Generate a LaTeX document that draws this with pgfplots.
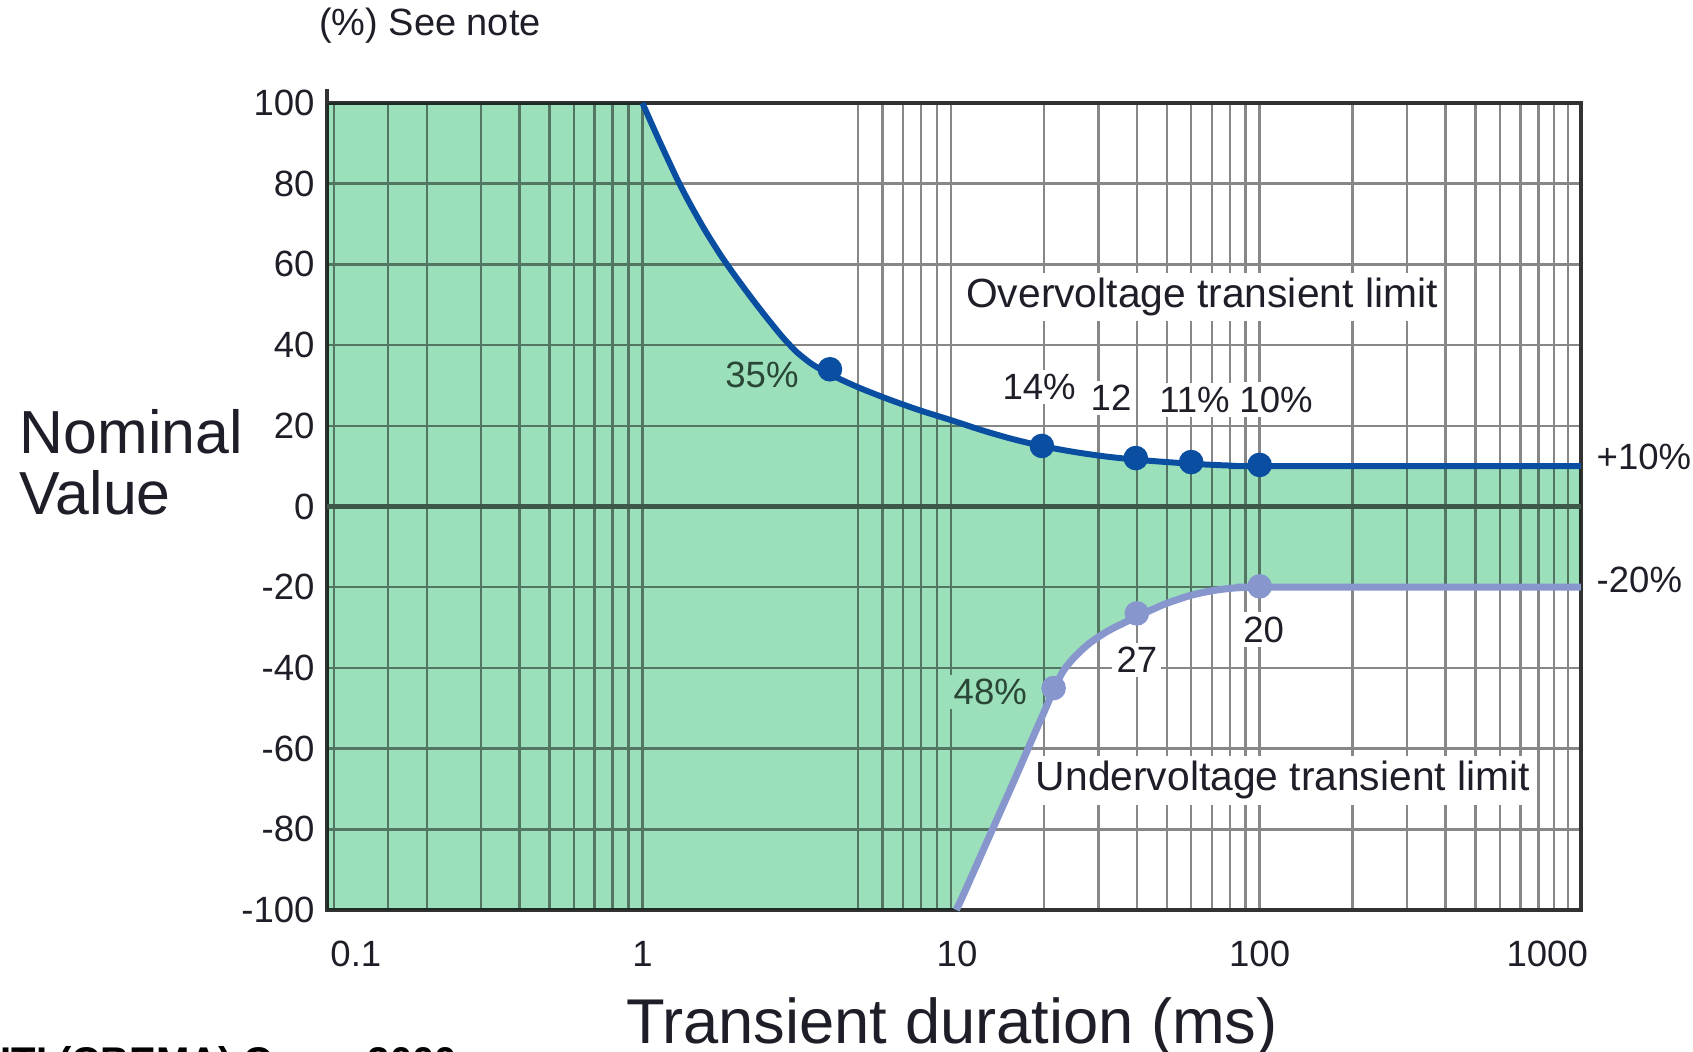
\documentclass[border=0pt]{standalone}
\usepackage{fontspec}
\setmainfont{Liberation Sans}
\usepackage{pgfplots}
\usepackage{pgfplotstable}
\pgfplotsset{compat=1.18}
\definecolor{fillgreen}{RGB}{155,224,186}
\definecolor{overblue}{RGB}{10,78,162}
\definecolor{underblue}{RGB}{136,150,206}
\definecolor{txt}{RGB}{30,30,40}
\definecolor{gridgray}{RGB}{135,135,135}
\definecolor{labgray}{RGB}{70,80,75}
\definecolor{axiscol}{RGB}{50,50,50}
\pgfplotstableread{
x y
1 100
1.122 91.4
1.259 83.15
1.318 80.0
1.413 75.56
1.585 68.8
1.778 62.7
1.905 59.35
1.995 57.2
2.239 52.0
2.512 47.05
2.818 42.35
3.055 39.4
3.162 38.25
3.548 35.25
4.093 32.6
5.012 29.5
6.31 26.5
7.943 23.8
10 21.4
12.59 18.9
15.85 16.7
19.95 14.9
25.12 13.5
31.62 12.4
39.81 11.6
50.12 11.0
63.1 10.5
79.43 10.15
100 10.0
1100 10.0
}\overtable
\pgfplotstableread{
x y
10.4 -100
11 -96
12 -89.5
13 -83.5
14 -78
16 -68
18 -59
20 -51
21.5 -45.5
23 -41
25 -37.5
28 -34
32 -31
36 -29
40 -27.3
45 -25.5
50 -24
60 -22
70 -20.9
80 -20.3
90 -20.05
100 -20
1100 -20
}\undertable
\begin{document}
\begin{tikzpicture}[x=1cm,y=1cm]
\begin{axis}[
  at={(3.27cm,1.42cm)}, anchor=south west,
  scale only axis, width=12.54cm, height=8.07cm,
  xmode=log, log basis x=10,
  xmin=0.095, xmax=1100, ymin=-100, ymax=100,
  xtick={0.1,1,10,100,1000},
  xticklabels={{\hspace*{4.4mm}0.1},1,{\hspace*{1.2mm}10},100,{1000\hspace*{4.2mm}}},
  minor xtick={0.15,0.2,0.3,0.4,0.5,0.6,0.7,0.8,0.9,5,6,7,8,9,20,30,40,50,60,70,80,90,200,300,400,500,600,700,800,900},
  ytick={-100,-80,-60,-40,-20,0,20,40,60,80,100},
  yticklabels={-100,-80,-60,-40,-20,0,20,40,60,80,100},
  xmajorgrids, xminorgrids, ymajorgrids,
  grid style={gridgray, line width=0.7pt},
  minor grid style={gridgray, line width=0.7pt},
  major tick length=0pt, minor tick length=0pt,
  axis line style={line width=1.2pt, draw=axiscol},
  tick label style={font=\fontsize{10.4}{12}\selectfont, text=txt},
  xticklabel style={yshift=-5.4pt},
  clip=false,
]
% zero line
\draw[gridgray!75!black, line width=1.5pt] (axis cs:0.095,0) -- (axis cs:1100,0);
% labels (drawn before the fill so the green multiplies over them)
\node[fill=white, inner sep=1.5pt, text=txt, font=\fontsize{11.6}{13}\selectfont] at (axis cs:65,51.9) {Overvoltage transient limit};
\node[fill=white, inner sep=1.5pt, text=txt, font=\fontsize{11.6}{13}\selectfont] at (axis cs:119,-67.9) {Undervoltage transient limit};
\node[fill=white, inner sep=1.2pt, text=labgray, font=\fontsize{10.4}{12}\selectfont] at (axis cs:2.44,32.6) {35\%};
\node[fill=white, inner sep=1.2pt, text=txt, font=\fontsize{10.4}{12}\selectfont] at (axis cs:19.3,29.7) {14\%};
\node[fill=white, inner sep=1.2pt, text=txt, font=\fontsize{10.4}{12}\selectfont] at (axis cs:33,27) {12};
\node[fill=white, inner sep=1.2pt, text=txt, font=\fontsize{10.4}{12}\selectfont] at (axis cs:61.5,26.5) {11\%};
\node[fill=white, inner sep=1.2pt, text=txt, font=\fontsize{10.4}{12}\selectfont] at (axis cs:113,26.5) {10\%};
\node[fill=white, inner sep=1.2pt, text=txt, font=\fontsize{10.4}{12}\selectfont] at (axis cs:103,-30.5) {20};
\node[fill=white, inner sep=1.2pt, text=txt, font=\fontsize{10.4}{12}\selectfont] at (axis cs:40,-38) {27};
\node[fill=white, inner sep=1.2pt, text=labgray, font=\fontsize{10.4}{12}\selectfont] at (axis cs:13.4,-46) {48\%};
% dots
\addplot[only marks, mark=*, mark size=3.3pt, color=overblue] coordinates {(4.05,34)(19.7,15)(39.7,12)(60,11)(100,10.3)};
\addplot[only marks, mark=*, mark size=3.3pt, color=underblue] coordinates {(21.5,-45)(40,-26.5)(100,-19.8)};
% green acceptable region
\addplot[fill=fillgreen, draw=none, blend mode=multiply] coordinates {
(0.095,100)(1,100)(1.122,91.4)(1.259,83.15)(1.318,80.0)(1.413,75.56)(1.585,68.8)(1.778,62.7)(1.905,59.35)(1.995,57.2)(2.239,52.0)(2.512,47.05)(2.818,42.35)(3.055,39.4)(3.162,38.25)(3.548,35.25)(4.093,32.6)(5.012,29.5)(6.31,26.5)(7.943,23.8)(10,21.4)(12.59,18.9)(15.85,16.7)(19.95,14.9)(25.12,13.5)(31.62,12.4)(39.81,11.6)(50.12,11.0)(63.1,10.5)(79.43,10.15)(100,10.0)(1100,10)
(1100,-20)(100,-20)(90,-20.05)(80,-20.3)(70,-20.9)(60,-22)(50,-24)(45,-25.5)(40,-27.3)(36,-29)(32,-31)(28,-34)(25,-37.5)(23,-41)(21.5,-45.5)(20,-51)(18,-59)(16,-68)(14,-78)(13,-83.5)(12,-89.5)(11,-96)(10.4,-100)(0.095,-100)};
% limit curves
\addplot[overblue, line width=1.7pt, smooth] table[x=x, y=y] {\overtable};
\addplot[underblue, line width=2pt, smooth] table[x=x, y=y] {\undertable};
\draw[line width=1.2pt, draw=axiscol] (axis cs:0.095,100) -- ++(0pt,4pt);
\end{axis}
\node[font=\fontsize{10.8}{13}\selectfont, text=txt] at (4.30,10.26) {(\%) See note};
\node[anchor=west, inner sep=0pt, font=\fontsize{17.3}{20}\selectfont, text=txt] at (0.19,6.20) {Nominal};
\node[anchor=west, inner sep=0pt, font=\fontsize{17.3}{20}\selectfont, text=txt] at (0.19,5.59) {Value};
\node[anchor=base, inner sep=0pt, font=\fontsize{18}{21}\selectfont, text=txt] at (9.52,0.08) {Transient duration (ms)};
\node[anchor=base west, inner sep=0pt, font=\bfseries\fontsize{11.4}{14}\selectfont, text=black] at (0,-0.24) {ITI (CBEMA) Curve 2000};
\node[anchor=west, inner sep=0pt, font=\fontsize{10.4}{12}\selectfont, text=txt] at (15.96,5.95) {+10\%};
\node[anchor=west, inner sep=0pt, font=\fontsize{10.4}{12}\selectfont, text=txt] at (15.96,4.72) {-20\%};
\pgfresetboundingbox
\useasboundingbox (0,0) rectangle (16.93,10.52);
\end{tikzpicture}
\end{document}
